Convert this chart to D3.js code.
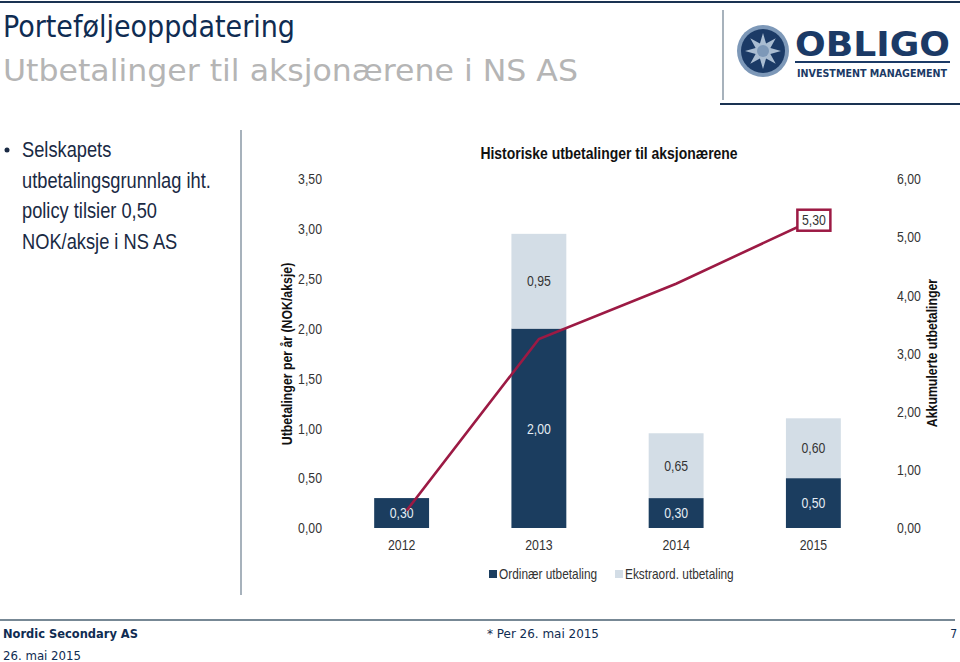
<!DOCTYPE html>
<html><head><meta charset="utf-8">
<script src="https://cdn.jsdelivr.net/npm/d3@7"></script>
<style>
html,body{margin:0;padding:0;background:#fff;}
svg{display:block;}
</style></head>
<body>
<script>
// ---- data ----
const years = ["2012", "2013", "2014", "2015"];
const ordinary = [0.30, 2.00, 0.30, 0.50];
const extraordinary = [0.00, 0.95, 0.65, 0.60];
const cumulative = [0.30, 3.25, 4.20, 5.30];
const leftTicks = [0, 0.5, 1.0, 1.5, 2.0, 2.5, 3.0, 3.5];
const rightTicks = [0, 1, 2, 3, 4, 5, 6];
const seriesNames = ["Ordinær utbetaling", "Ekstraord. utbetaling"];
const bulletLines = ["Selskapets", "utbetalingsgrunnlag iht.", "policy tilsier 0,50", "NOK/aksje i NS AS"];

const W = 960, H = 662;
const C_DARK = "#1b3d5f", C_LIGHT = "#d3dde6", C_LINE = "#9c1a44";
const fmt = v => d3.format(".2f")(v).replace(".", ",");
const narrow = "'Liberation Sans',Arial,sans-serif";
const tah = "'DejaVu Sans Condensed','DejaVu Sans',Verdana,sans-serif";

const svg = d3.select("body").append("svg").attr("width", W).attr("height", H);

// emulate a narrow face by compressing measured text width
function narrowize(sel, f) {
  sel.each(function () {
    const w = this.getComputedTextLength();
    d3.select(this).attr("textLength", (w * (f || 0.82)).toFixed(1)).attr("lengthAdjust", "spacingAndGlyphs");
  });
  return sel;
}

// ---- header ----
svg.append("line").attr("x1", 0).attr("x2", W).attr("y1", 2).attr("y2", 2).attr("stroke", "#1a3352").attr("stroke-width", 2);
svg.append("text").attr("x", 3).attr("y", 37).attr("font-family", tah).attr("font-size", 31).attr("fill", "#0f2c52")
  .attr("textLength", 292).attr("lengthAdjust", "spacingAndGlyphs").text("Porteføljeoppdatering");
svg.append("text").attr("x", 3).attr("y", 81).attr("font-family", tah).attr("font-size", 31).attr("fill", "#b5b5b5")
  .attr("textLength", 575).attr("lengthAdjust", "spacingAndGlyphs").text("Utbetalinger til aksjonærene i NS AS");

// logo
const logo = svg.append("g");
logo.append("line").attr("x1", 723).attr("x2", 723).attr("y1", 10).attr("y2", 100).attr("stroke", "#8a99a6").attr("stroke-width", 1.5);
logo.append("line").attr("x1", 720).attr("x2", W).attr("y1", 104).attr("y2", 104).attr("stroke", "#1a3352").attr("stroke-width", 2);
logo.append("circle").attr("cx", 763).attr("cy", 51).attr("r", 26).attr("fill", "#7d98b8");
logo.append("circle").attr("cx", 763).attr("cy", 51).attr("r", 22).attr("fill", "#1b3a66");
const starPts = [];
for (let i = 0; i < 16; i++) {
  const a = -Math.PI / 2 + i * Math.PI / 8;
  const r = i % 2 === 0 ? 18 : 8;
  starPts.push([763 + r * Math.cos(a), 51 + r * Math.sin(a)]);
}
logo.append("polygon").attr("points", starPts.map(p => p.join(",")).join(" ")).attr("fill", "#aabdd2");
logo.append("circle").attr("cx", 763).attr("cy", 51).attr("r", 6).attr("fill", "#7d98b8");
logo.append("text").attr("x", 795).attr("y", 56).attr("font-family", "'DejaVu Sans',sans-serif").attr("font-weight", "bold")
  .attr("font-size", 34).attr("fill", "#1b3a66").attr("textLength", 155).attr("lengthAdjust", "spacingAndGlyphs").text("OBLIGO");
logo.append("line").attr("x1", 795).attr("x2", 950).attr("y1", 62).attr("y2", 62).attr("stroke", "#1b3a66").attr("stroke-width", 2);
logo.append("text").attr("x", 797).attr("y", 77).attr("font-family", "'DejaVu Sans Condensed','DejaVu Sans',sans-serif").attr("font-weight", "bold")
  .attr("font-size", 10.5).attr("fill", "#1b3a66").attr("textLength", 150).attr("lengthAdjust", "spacingAndGlyphs").text("INVESTMENT MANAGEMENT");

// ---- bullet text ----
svg.append("circle").attr("cx", 7).attr("cy", 150).attr("r", 2.5).attr("fill", "#1a2a44");
bulletLines.forEach((t, i) => {
  narrowize(svg.append("text").attr("x", 22).attr("y", 157 + i * 30.5).attr("font-family", narrow).attr("font-size", 22)
    .attr("fill", "#1a2a44").text(t), 0.83);
});
svg.append("line").attr("x1", 241).attr("x2", 241).attr("y1", 130).attr("y2", 595).attr("stroke", "#8a99a6").attr("stroke-width", 1.5);

// ---- chart ----
const x = d3.scaleBand().domain(years).range([333, 882]).paddingInner(0.6).paddingOuter(0.3);
const yL = d3.scaleLinear().domain([0, 3.5]).range([528, 179]);
const yR = d3.scaleLinear().domain([0, 6]).range([528, 179]);

narrowize(svg.append("text").attr("x", 609).attr("y", 159).attr("text-anchor", "middle").attr("font-family", narrow)
  .attr("font-weight", "bold").attr("font-size", 17).attr("fill", "#111").text("Historiske utbetalinger til aksjonærene"));

const axL = svg.append("g").attr("transform", "translate(322,0)")
  .call(d3.axisLeft(yL).tickValues(leftTicks).tickFormat(fmt).tickSize(0).tickPadding(0));
const axR = svg.append("g").attr("transform", "translate(897,0)")
  .call(d3.axisRight(yR).tickValues(rightTicks).tickFormat(fmt).tickSize(0).tickPadding(0));
const axX = svg.append("g").attr("transform", "translate(0,536)")
  .call(d3.axisBottom(x).tickSize(0).tickPadding(0));
[axL, axR, axX].forEach(a => {
  a.select(".domain").remove();
  narrowize(a.selectAll("text").attr("font-family", narrow).attr("font-size", 15).attr("fill", "#333"));
});
axX.selectAll("text").attr("dy", "0.95em");

narrowize(svg.append("text").attr("transform", "translate(292,354) rotate(-90)").attr("text-anchor", "middle")
  .attr("font-family", narrow).attr("font-weight", "bold").attr("font-size", 15).attr("fill", "#111")
  .text("Utbetalinger per år (NOK/aksje)"));
narrowize(svg.append("text").attr("transform", "translate(937,353) rotate(-90)").attr("text-anchor", "middle")
  .attr("font-family", narrow).attr("font-weight", "bold").attr("font-size", 15).attr("fill", "#111")
  .text("Akkumulerte utbetalinger"));

// bars
const g = svg.append("g");
years.forEach((yr, i) => {
  const o = ordinary[i], e = extraordinary[i];
  g.append("rect").attr("x", x(yr)).attr("width", x.bandwidth()).attr("y", yL(o)).attr("height", yL(0) - yL(o)).attr("fill", C_DARK);
  if (e > 0) {
    g.append("rect").attr("x", x(yr)).attr("width", x.bandwidth()).attr("y", yL(o + e)).attr("height", yL(o) - yL(o + e)).attr("fill", C_LIGHT);
  }
});
// line
svg.append("path").datum(cumulative)
  .attr("d", d3.line().x((d, i) => x(years[i]) + x.bandwidth() / 2 + (i === 0 ? 5 : 0)).y(d => yR(d)))
  .attr("fill", "none").attr("stroke", C_LINE).attr("stroke-width", 2.6);

// bar labels
years.forEach((yr, i) => {
  const o = ordinary[i], e = extraordinary[i];
  const cx = x(yr) + x.bandwidth() / 2;
  narrowize(g.append("text").attr("x", cx).attr("y", yL(o / 2)).attr("dy", "0.35em").attr("text-anchor", "middle")
    .attr("font-family", narrow).attr("font-size", 15).attr("fill", "#e6edf4").text(fmt(o)));
  if (e > 0) {
    narrowize(g.append("text").attr("x", cx).attr("y", yL(o + e / 2)).attr("dy", "0.35em").attr("text-anchor", "middle")
      .attr("font-family", narrow).attr("font-size", 15).attr("fill", "#333").text(fmt(e)));
  }
});
// last cumulative label box
const li = cumulative.length - 1;
const lx = x(years[li]) + x.bandwidth() / 2, ly = yR(cumulative[li]);
svg.append("rect").attr("x", lx - 16).attr("y", ly - 10).attr("width", 33).attr("height", 21)
  .attr("fill", "#fff").attr("stroke", C_LINE).attr("stroke-width", 2.5);
narrowize(svg.append("text").attr("x", lx + 0.5).attr("y", ly).attr("dy", "0.36em").attr("text-anchor", "middle")
  .attr("font-family", narrow).attr("font-size", 15).attr("fill", "#333").text(fmt(cumulative[li])));

// legend
const leg = svg.append("g");
const legX = [489, 615];
[C_DARK, C_LIGHT].forEach((c, i) => {
  leg.append("rect").attr("x", legX[i]).attr("y", 570).attr("width", 8).attr("height", 8).attr("fill", c);
  narrowize(leg.append("text").attr("x", legX[i] + 10).attr("y", 579).attr("font-family", narrow).attr("font-size", 15)
    .attr("fill", "#333").text(seriesNames[i]), 0.79);
});

// ---- footer ----
svg.append("line").attr("x1", 0).attr("x2", 955).attr("y1", 620).attr("y2", 620).attr("stroke", "#4a6072").attr("stroke-width", 1.5);
svg.append("text").attr("x", 3).attr("y", 638).attr("font-family", tah).attr("font-weight", "bold").attr("font-size", 12)
  .attr("fill", "#0f2c52").attr("textLength", 135).attr("lengthAdjust", "spacingAndGlyphs").text("Nordic Secondary AS");
svg.append("text").attr("x", 487).attr("y", 638).attr("font-family", tah).attr("font-size", 12)
  .attr("fill", "#0f2c52").attr("textLength", 112).attr("lengthAdjust", "spacingAndGlyphs").text("* Per 26. mai 2015");
svg.append("text").attr("x", 957).attr("y", 638).attr("text-anchor", "end").attr("font-family", tah).attr("font-size", 12)
  .attr("fill", "#0f2c52").text("7");
svg.append("text").attr("x", 3).attr("y", 660).attr("font-family", tah).attr("font-size", 12)
  .attr("fill", "#0f2c52").attr("textLength", 78).attr("lengthAdjust", "spacingAndGlyphs").text("26. mai 2015");
</script>
</body></html>
